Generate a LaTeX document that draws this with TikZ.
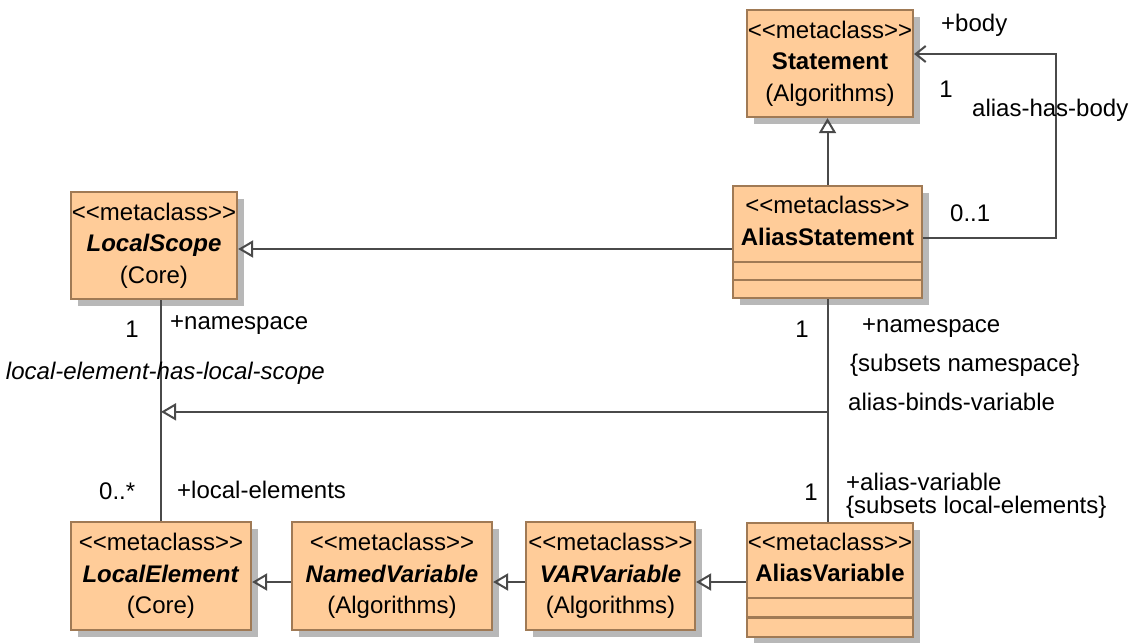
\documentclass[tikz,border=0pt]{standalone}
\usepackage{fontspec}
\setmainfont{Liberation Sans}[Ligatures=TeXOff]
\usetikzlibrary{arrows.meta,shadows}
\definecolor{clsfill}{HTML}{FFCC99}
\definecolor{clsdraw}{HTML}{A07A55}
\definecolor{clsshadow}{HTML}{B8B8B8}
\definecolor{linkgray}{HTML}{4A4A4A}

\begin{document}
\begin{tikzpicture}[
  x=1pt, y=-1pt,
  every node/.style={font=\fontsize{24}{31.5}\selectfont, inner sep=0pt},
  cls/.style={draw=clsdraw, fill=clsfill, line width=2.2pt, align=center,
    drop shadow={shadow xshift=7pt, shadow yshift=-7pt, fill=clsshadow, opacity=1}},
  namepart/.style={cls, text depth=6pt},
  lbl/.style={anchor=west},
  link/.style={draw=linkgray, line width=2pt},
  gen/.style={link, -{Triangle[open, length=15pt, width=17pt, line width=2pt]}},
  nav/.style={link, -{Straight Barb[length=10pt, width=16pt, line width=2pt]}}
]
\useasboundingbox (0,0) rectangle (1131,642);

% Classes
\node[cls, minimum width=166pt, minimum height=107pt] (stmt) at (830,63.5)
  {<<metaclass>>\\\textbf{Statement}\\(Algorithms)};
\node[namepart, minimum width=189pt, minimum height=76pt] (aliasstmt) at (827.5,224)
  {<<metaclass>>\\\textbf{AliasStatement}};
\node[cls, minimum width=189pt, minimum height=36pt] (aliasstmt-attr) at (827.5,280) {};
\node[cls, minimum width=166pt, minimum height=107pt] (lscope) at (154,245.5)
  {<<metaclass>>\\\textbf{\textit{LocalScope}}\\(Core)};
\node[cls, minimum width=180pt, minimum height=108pt] (lelem) at (161,576)
  {<<metaclass>>\\\textbf{\textit{LocalElement}}\\(Core)};
\node[cls, minimum width=200pt, minimum height=108pt] (namedvar) at (392,576)
  {<<metaclass>>\\\textbf{\textit{NamedVariable}}\\(Algorithms)};
\node[cls, minimum width=169pt, minimum height=108pt] (varvar) at (610.5,576)
  {<<metaclass>>\\\textbf{\textit{VARVariable}}\\(Algorithms)};
\node[namepart, minimum width=166pt, minimum height=75pt] (aliasvar) at (830,560.5)
  {<<metaclass>>\\\textbf{AliasVariable}};
\node[cls, minimum width=166pt, minimum height=39pt] (aliasvar-attr) at (830,617.5) {};
\draw[clsdraw, line width=2.2pt] (aliasstmt-attr.west) -- (aliasstmt-attr.east);
\draw[clsdraw, line width=2.2pt] (aliasvar-attr.west) -- (aliasvar-attr.east);

% Generalizations
\draw[gen] (aliasstmt.north) -- (aliasstmt.north |- stmt.south);
\draw[gen] ([yshift=-25pt]aliasstmt.west) coordinate (gscope) -- (gscope -| lscope.east);
\draw[gen] ([yshift=-21.5pt]aliasvar.west) coordinate (gvar) -- (gvar -| varvar.east);
\draw[gen] ([yshift=-6pt]varvar.west) coordinate (gnamed) -- (gnamed -| namedvar.east);
\draw[gen] ([yshift=-6pt]namedvar.west) coordinate (gelem) -- (gelem -| lelem.east);

% Associations
\draw[nav] ([yshift=-14pt]aliasstmt.east) -- ++(133,0) |- ([yshift=9.5pt]stmt.east);
\draw[link] (lscope.south -| lelem.north) -- (lelem.north);
\draw[link] (aliasstmt-attr.south) -- (aliasstmt-attr.south |- aliasvar.north)
  coordinate[pos=0.506] (binds);
\draw[gen] (binds) -- (binds -| lelem.north);

% Association ends and names
\node[lbl] (body-role) at (941,25) {+body};
\node (body-mult) at (946,89) {1};
\node[lbl] (hasbody) at (972,110) {alias-has-body};
\node[lbl] (alias-mult) at (950,213) {0..1};
\node (scope-mult) at (132,329) {1};
\node[lbl] (scope-role) at (170,325) {+namespace};
\node[anchor=east] (scope-assoc) at (325,373) {\textit{local-element-has-local-scope}};
\node[lbl] (elem-mult) at (99,491) {0..*};
\node[lbl] (elem-role) at (177,490) {+local-elements};
\node (ns-mult) at (802,329) {1};
\node[lbl] (ns-role) at (862,328) {+namespace};
\node[lbl] (ns-subset) at (850,365) {\{subsets namespace\}};
\node[lbl] (binds-name) at (848,402) {alias-binds-variable};
\node (var-mult) at (811,492) {1};
\node[lbl] (var-role) at (846,482) {+alias-variable};
\node[lbl] (var-subset) at (846,507) {\{subsets local-elements\}};

\end{tikzpicture}
\end{document}
